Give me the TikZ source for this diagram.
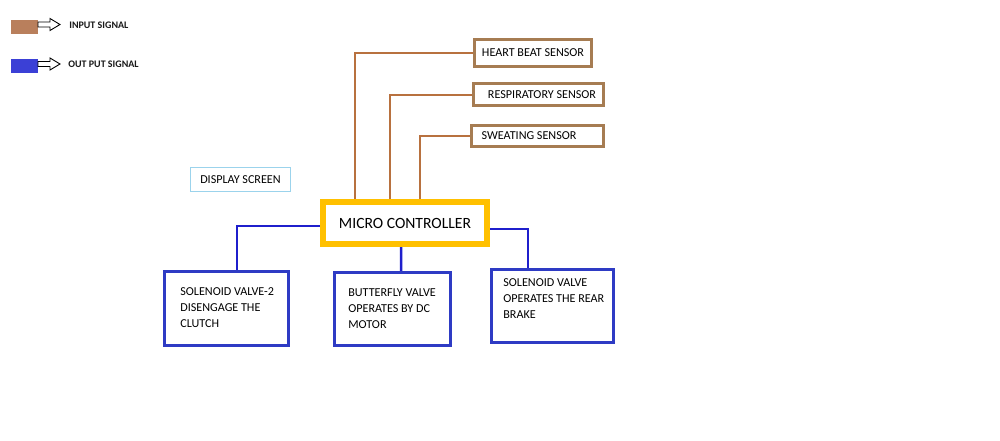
\documentclass[tikz,border=0pt]{standalone}
\usepackage{fontspec}
\setmainfont{Carlito}
\usetikzlibrary{calc,backgrounds}
\definecolor{brline}{HTML}{B8713F}
\definecolor{brbox}{HTML}{A67C52}
\definecolor{brfill}{HTML}{B97F5C}
\definecolor{blline}{HTML}{1F1FCC}
\definecolor{blbox}{HTML}{2E3BC4}
\definecolor{blfill}{HTML}{3B40D6}
\definecolor{mcyel}{HTML}{FFC000}
\definecolor{dsblue}{HTML}{9BD3EC}
\newcommand\pxu{0.5669pt}
\newcommand\smallf{\fontsize{6.9}{9.07}\selectfont}
\newcommand\legf{\fontsize{5.7}{7}\selectfont\bfseries}
\newcommand\bigf{\fontsize{8.9}{10.5}\selectfont}
\tikzset{
  sbox/.style={draw=brbox, line width=3*\pxu, inner sep=0pt, font=\smallf, text=black},
  obox/.style={draw=blbox, line width=3*\pxu, inner sep=0pt},
  lbl/.style={inner sep=0pt, align=left, font=\smallf, text=black},
  brw/.style={draw=brline, line width=2*\pxu},
  blw/.style={draw=blline, line width=2.5*\pxu},
  legarrow/.style={draw=black, line width=0.9*\pxu, fill=white},
  legtxt/.style={inner sep=0pt, anchor=west, font=\legf, text=black!90}
}
\begin{document}
\begin{tikzpicture}[x=0.02cm, y=-0.02cm]
\useasboundingbox (0,0) rectangle (1000,440);

% legend
\fill[brfill] (11,20) rectangle (38,34);
\draw[legarrow] (38,22) -- (50,22) -- (50,18.5) -- (60,24.5) -- (50,30.5) -- (50,27) -- (38,27) -- cycle;
\node[legtxt] (lin) at (69,25) {INPUT SIGNAL};
\fill[blfill] (11,59) rectangle (38,73);
\draw[legarrow] (38,61.5) -- (50,61.5) -- (50,58) -- (60,64) -- (50,70) -- (50,66.5) -- (38,66.5) -- cycle;
\node[legtxt] (lout) at (68,64) {OUT PUT SIGNAL};

% sensors
\node[sbox, minimum width=117*\pxu, minimum height=27*\pxu] (hb) at (533,53) {HEART BEAT SENSOR};
\node[sbox, minimum width=130*\pxu, minimum height=22*\pxu] (rs) at (538.5,94.5) {\hspace*{4pt}RESPIRATORY SENSOR};
\node[sbox, minimum width=132*\pxu, minimum height=21*\pxu] (sw) at (537.5,136) {SWEATING SENSOR\hspace*{9.6pt}};

% display
\node[draw=dsblue, line width=1*\pxu, inner sep=0pt, minimum width=100*\pxu, minimum height=24*\pxu, font=\smallf, text=black] (ds) at (240.5,179.5) {DISPLAY SCREEN};

% micro controller
\node[draw=mcyel, fill=white, line width=6*\pxu, inner sep=0pt, minimum width=164*\pxu, minimum height=42*\pxu, font=\bigf] (mc) at (405,223) {MICRO CONTROLLER};

% outputs
\node[obox, minimum width=124*\pxu, minimum height=74*\pxu] (b1) at (226.5,308.5) {};
\node[obox, minimum width=116*\pxu, minimum height=73*\pxu] (b2) at (392.5,309) {};
\node[obox, minimum width=122*\pxu, minimum height=73*\pxu] (b3) at (552.5,306) {};
\node[lbl, anchor=west] (t1) at (180,307.5) {SOLENOID VALVE-2\\DISENGAGE THE\\CLUTCH};
\node[lbl, anchor=west] (t2) at (348,308.5) {BUTTERFLY VALVE\\OPERATES BY DC\\MOTOR};
\node[lbl, anchor=west] (t3) at (503,298.5) {SOLENOID VALVE\\OPERATES THE REAR\\BRAKE};

\begin{pgfonlayer}{background}
\fill[white] (0,0) rectangle (1000,440);
\draw[brw] (hb.west) -| ($(mc.north west)+(35,0)$);
\draw[brw] (rs.west) -| ($(mc.north west)+(70,0)$);
\draw[brw] (sw.west) -| ($(mc.north west)+(100,0)$);
\draw[blw] ($(mc.west)+(0,3)$) -| ($(b1.north)+(10.5,0)$);
\draw[blw] ($(mc.south)+(-4,0)$) -- ($(b2.north)+(8.5,0)$);
\draw[blw] ($(mc.east)+(0,6)$) -| ($(b3.north)+(-24.5,0)$);
\end{pgfonlayer}
\end{tikzpicture}
\end{document}
